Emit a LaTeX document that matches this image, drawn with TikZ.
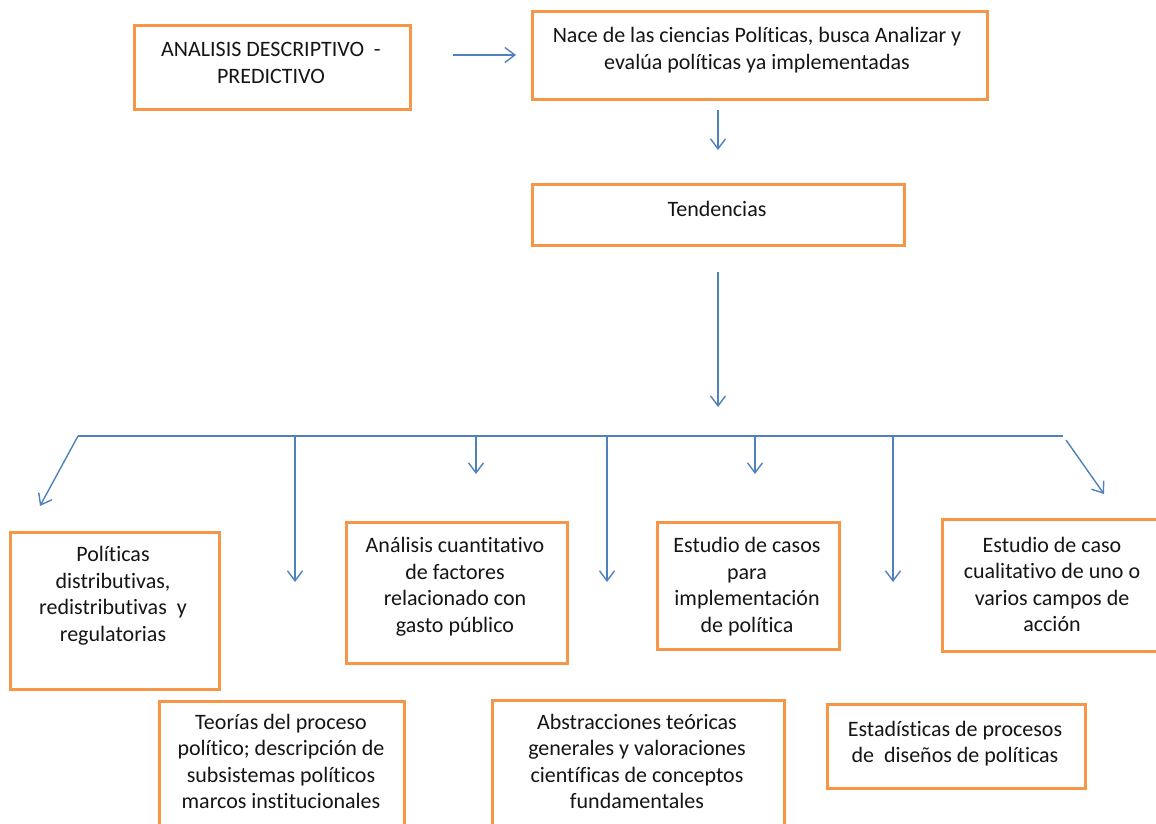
\documentclass[tikz,border=0pt]{standalone}
\usepackage{fontspec}
\setmainfont[Ligatures=NoCommon]{Carlito}
\usetikzlibrary{arrows.meta}
\definecolor{boxorange}{HTML}{F79646}
\definecolor{arrowblue}{HTML}{4F81BD}
\definecolor{txtgray}{HTML}{151515}
\tikzset{
  boxshape/.style={draw=boxorange, line width=3pt, fill=white, inner sep=0pt},
  txt/.style={align=center, inner sep=0pt, text=txtgray, font=\fontsize{22}{26.5}\selectfont},
  conn/.style={draw=arrowblue, line width=1.4pt, -{Straight Barb[length=10pt,width=15pt,line width=1.4pt]}},
  plain/.style={draw=arrowblue, line width=1.4pt}
}
\begin{document}
\begin{tikzpicture}[x=1pt,y=-1pt]
\useasboundingbox (0,0) rectangle (1156,824);
% boxes
\node[boxshape, minimum width=276pt, minimum height=84pt, anchor=north west] (b1) at (133,24) {};
\node[boxshape, minimum width=455pt, minimum height=88pt, anchor=north west] (b2) at (531,10) {};
\node[boxshape, minimum width=372pt, minimum height=61pt, anchor=north west] (b3) at (531,183) {};
\node[boxshape, minimum width=209pt, minimum height=157pt, anchor=north west] (b4) at (9,531) {};
\node[boxshape, minimum width=221pt, minimum height=141pt, anchor=north west] (b5) at (345,521) {};
\node[boxshape, minimum width=182pt, minimum height=127pt, anchor=north west] (b6) at (656,521) {};
\node[boxshape, minimum width=222pt, minimum height=132pt, anchor=north west] (b7) at (941,518) {};
\node[boxshape, minimum width=245pt, minimum height=132pt, anchor=north west] (b8) at (158,700) {};
\node[boxshape, minimum width=292pt, minimum height=132pt, anchor=north west] (b9) at (491,699) {};
\node[boxshape, minimum width=258pt, minimum height=84pt, anchor=north west] (b10) at (826,703) {};
% texts
\node[txt] (t1) at (271,63) {ANALISIS DESCRIPTIVO \ -\\PREDICTIVO};
\node[txt] (t2) at (757,50) {Nace de las ciencias Políticas, busca Analizar y\\evalúa políticas ya implementadas};
\node[txt] (t3) at (717,209) {Tendencias};
\node[txt] (t4) at (113,595.5) {Políticas\\distributivas,\\redistributivas \ y\\regulatorias};
\node[txt] (t5) at (455,586.5) {Análisis cuantitativo\\de factores\\relacionado con\\gasto público};
\node[txt] (t6) at (747,586.5) {Estudio de casos\\para\\implementación\\de política};
\node[txt] (t7) at (1052,584.5) {Estudio de caso\\cualitativo de uno o\\varios campos de\\acción};
\node[txt] (t8) at (281,761.5) {Teorías del proceso\\político; descripción de\\subsistemas políticos\\marcos institucionales};
\node[txt] (t9) at (637,761.5) {Abstracciones teóricas\\generales y valoraciones\\científicas de conceptos\\fundamentales};
\node[txt] (t10) at (955,743.5) {Estadísticas de procesos\\de \ diseños de políticas};
% connector coordinates
\coordinate (a1s) at (453,55);
\coordinate (a1e) at (516,55);
\coordinate (a2s) at (718,110);
\coordinate (a2e) at (718,150);
\coordinate (a3s) at (718,272);
\coordinate (a3e) at (718,407);
\coordinate (hl) at (78,436);
\coordinate (hr) at (1063,436);
\coordinate (d1e) at (40,506);
\coordinate (v1s) at (295,436);
\coordinate (v1e) at (295,582);
\coordinate (v2s) at (476,436);
\coordinate (v2e) at (476,474);
\coordinate (v3s) at (607,436);
\coordinate (v3e) at (607,582);
\coordinate (v4s) at (755,436);
\coordinate (v4e) at (755,474);
\coordinate (v5s) at (893,436);
\coordinate (v5e) at (893,582);
\coordinate (d2s) at (1066,440);
\coordinate (d2e) at (1104,494);
% connectors
\draw[conn] (a1s) -- (a1e);
\draw[conn] (a2s) -- (a2e);
\draw[conn] (a3s) -- (a3e);
\draw[plain] (hl) -- (hr);
\draw[conn] (hl) -- (d1e);
\draw[conn] (v1s) -- (v1e);
\draw[conn] (v2s) -- (v2e);
\draw[conn] (v3s) -- (v3e);
\draw[conn] (v4s) -- (v4e);
\draw[conn] (v5s) -- (v5e);
\draw[conn] (d2s) -- (d2e);
\end{tikzpicture}
\end{document}
